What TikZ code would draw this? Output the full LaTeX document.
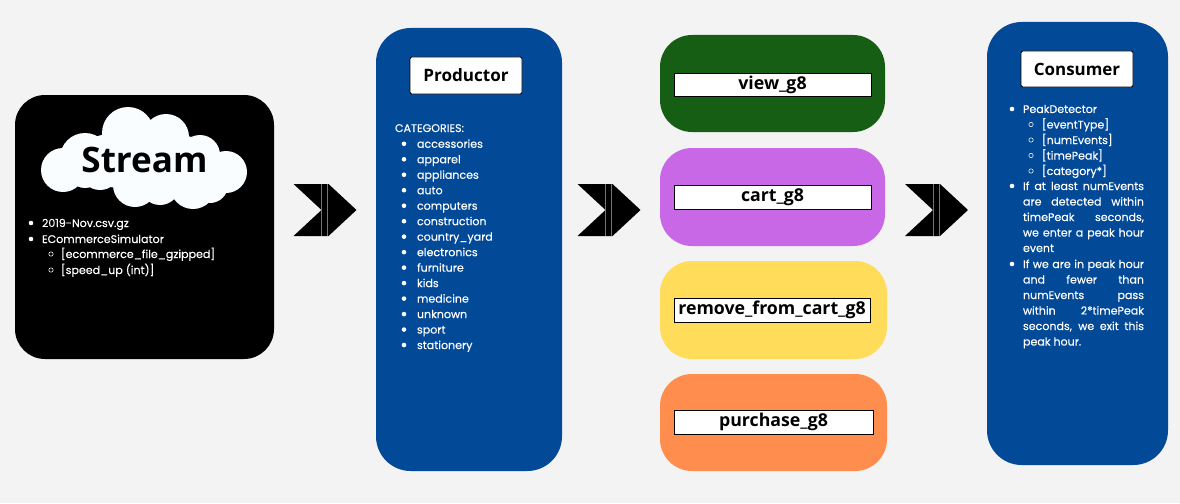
\documentclass[tikz,border=0pt]{standalone}
\usepackage{fontspec}
\setmainfont{Poppins}[FakeBold=0.25]
\newfontfamily\titlefont{Open Sans}[BoldFont={Open Sans Bold}]
\definecolor{bgc}{HTML}{F3F3F3}
\definecolor{bluep}{HTML}{024A97}
\definecolor{greenp}{HTML}{165E14}
\definecolor{purplep}{HTML}{C868E6}
\definecolor{yellowp}{HTML}{FFDD5B}
\definecolor{orangep}{HTML}{FF8D4D}
\definecolor{cloudc}{HTML}{F9FDFF}
\tikzset{
  x=0.75pt,y=-0.75pt,
  panel/.style={fill=#1,draw=none},
  txt/.style={anchor=base west,inner sep=0pt,outer sep=0pt,text=white,font=\fontsize{8.3}{10}\selectfont},
  bul/.style={fill=white,draw=none},
  ringm/.style={draw=white,line width=0.4pt,fill=none},
  titlebox/.style={draw=black,fill=white,line width=0.6pt,rounded corners=1.5pt,inner sep=0pt,font=\titlefont\bfseries\fontsize{#1}{#1}\selectfont,text=black},
  chev/.style={fill=black,draw=none},
  chevline/.style={draw=black!55,line width=0.5pt},
}
\newcommand{\jl}[1]{\makebox[90.75pt][s]{#1}}
\newcommand{\chevron}[2]{%
  \fill[chev] (#1,184) -- ++(35,0) -- ++(28,26) -- ++(-28,26) -- ++(-35,0) -- ++(28,-26) -- cycle;
  \draw[chevline] (#1+28,184) -- (#1+28,236);
  \draw[chevline] (#1+34,184) -- (#1+34,236);
  \coordinate (#2) at (#1+28,210);
}
\begin{document}
\begin{tikzpicture}
\useasboundingbox (0,0) rectangle (1180,503);
\fill[bgc] (0,0) rectangle (1180,503);
% panels
\fill[panel=black,rounded corners=22.5pt] (15,95) rectangle (274,359);
\fill[panel=bluep,rounded corners=26pt] (376,28) rectangle (562,471);
\fill[panel=bluep,rounded corners=26pt] (987,22) rectangle (1168,465);
\fill[panel=greenp,rounded corners=24pt] (660,35) rectangle (885,132);
\fill[panel=purplep,rounded corners=24pt] (660,148) rectangle (885,246);
\fill[panel=yellowp,rounded corners=24pt] (660,261) rectangle (887,359);
\fill[panel=orangep,rounded corners=24pt] (660,374) rectangle (887,471);
% cloud
\fill[cloudc] (63,170) circle (22) (85,158) circle (25) (128,133) circle (26) (166,137) circle (23)
  (200,155) circle (20) (226,172) circle (21)
  (143,160) ellipse (75 and 30) (193,186) circle (23) (210,185) circle (18)
  (135,185) circle (22) (85,170) circle (18) (100,170) circle (20) (160,185) circle (20);
\node[inner sep=0pt,text=black,font=\titlefont\bfseries\fontsize{26.3}{26}\selectfont] (streamtitle) at (144.5,160) {Stream};
% title boxes
\node[titlebox=12.8,minimum width=84pt,minimum height=27.75pt] (prod) at (466,75.5) {Productor};
\node[titlebox=12.7,minimum width=84pt,minimum height=27pt] (cons) at (1077,69) {Consumer};
\node[titlebox=13.3,rounded corners=0pt,minimum width=147.75pt,minimum height=17.25pt] (view) at (772.5,85) {view\_g8};
\node[titlebox=13.3,rounded corners=0pt,minimum width=147.75pt,minimum height=18pt] (cart) at (772.5,197) {cart\_g8};
\node[titlebox=13.3,rounded corners=0pt,minimum width=147pt,minimum height=18pt] (remove) at (772,310) {remove\_from\_cart\_g8};
\node[titlebox=13.3,rounded corners=0pt,minimum width=149.25pt,minimum height=18pt] (purchase) at (773.5,422) {purchase\_g8};
% chevrons
\chevron{293.5}{c1}
\chevron{577.5}{c2}
\chevron{905}{c3}
% stream list
\node[txt] (s1) at (42,227) {2019-Nov.csv.gz};
\node[txt] (s2) at (42,243) {ECommerceSimulator};
\node[txt] (s3) at (61,258) {[ecommerce\_file\_gzipped]};
\node[txt] (s4) at (61,274) {[speed\_up (int)]};
\foreach \y in {223,239} \fill[bul] (31,\y) circle (2.3);
\foreach \y in {254,270} \draw[ringm] (51,\y) circle (2.2);
% productor list
\node[txt] (pc) at (395,132) {CATEGORIES:};
\foreach \t [count=\i from 0] in {accessories,apparel,appliances,auto,computers,construction,country\_yard,electronics,furniture,kids,medicine,unknown,sport,stationery}{
  \pgfmathsetmacro{\yy}{147.8+15.48*\i}
  \node[txt] (p\i) at (417,\yy) {\t};
  \fill[bul] (404,\yy-4) circle (2.3);
}
% consumer list
\node[txt] (k1) at (1023,113) {PeakDetector};
\fill[bul] (1012,109) circle (2.3);
\foreach \t [count=\i from 0] in {[eventType],[numEvents],[timePeak],[category*]}{
  \pgfmathsetmacro{\yy}{128.5+15.5*\i}
  \node[txt] (kk\i) at (1042,\yy) {\t};
  \draw[ringm] (1031,\yy-4) circle (2.2);
}
\fill[bul] (1012,186) circle (2.3);
\node[txt] (l1) at (1023,190) {\jl{If at least numEvents}};
\node[txt] (l2) at (1023,205.5) {\jl{are detected within}};
\node[txt] (l3) at (1023,221) {\jl{timePeak seconds,}};
\node[txt] (l4) at (1023,236.5) {\jl{we enter a peak hour}};
\node[txt] (l5) at (1023,252) {event};
\fill[bul] (1012,264) circle (2.3);
\node[txt] (m1) at (1023,268) {\jl{If we are in peak hour}};
\node[txt] (m2) at (1023,283.5) {\jl{and fewer than}};
\node[txt] (m3) at (1023,299) {\jl{numEvents pass}};
\node[txt] (m4) at (1023,314.5) {\jl{within 2*timePeak}};
\node[txt] (m5) at (1023,330) {\jl{seconds, we exit this}};
\node[txt] (m6) at (1023,345.5) {peak hour.};
\end{tikzpicture}
\end{document}
